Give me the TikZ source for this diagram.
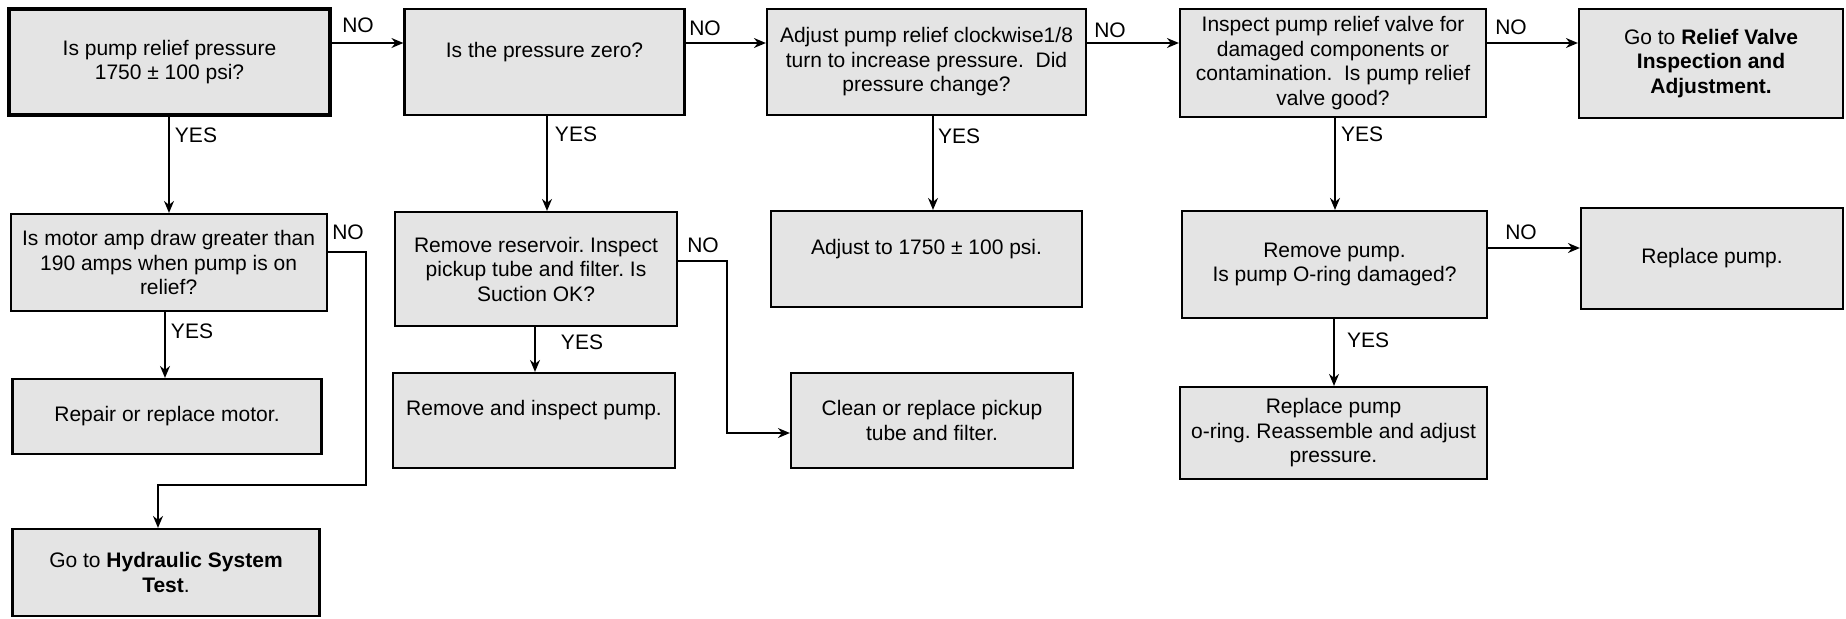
\documentclass[tikz,border=0pt]{standalone}
\usepackage{fontspec}
\setmainfont{Liberation Sans}
\usetikzlibrary{arrows.meta}
\definecolor{boxgray}{RGB}{228,228,228}
\frenchspacing
\begin{document}
\begin{tikzpicture}[x=0.5pt, y=-0.5pt,
  txt/.style={font=\fontsize{10.5pt}{12.25pt}\selectfont},
  box/.style={draw, line width=1.1pt, fill=boxgray, align=center, inner sep=0pt, txt},
  lbl/.style={inner sep=0pt, txt},
  ln/.style={line width=0.75pt},
  arr/.style={line width=0.75pt, -{Stealth[length=6pt, width=5pt, inset=2pt]}}]
\useasboundingbox (0,0) rectangle (1846,618);

% top row
\node[box, line width=1.8pt, minimum width=160.5pt, minimum height=53pt] (A) at (169.5,62)
  {Is pump relief pressure\\1750 ± 100 psi?};
\node[box, minimum width=140pt, minimum height=53pt] (B) at (544.5,62)
  {Is the pressure zero?\\~};
\node[box, minimum width=159.5pt, minimum height=53pt] (I) at (926.5,62)
  {Adjust pump relief clockwise1/8\\turn to increase pressure.~ Did\\pressure change?};
\node[box, minimum width=153pt, minimum height=54pt] (K) at (1333,63)
  {Inspect pump relief valve for\\damaged components or\\contamination.~ Is pump relief\\valve good?};
\node[box, minimum width=132pt, minimum height=54.5pt] (L) at (1711,63.5)
  {Go to \textbf{Relief Valve}\\\textbf{Inspection and}\\\textbf{Adjustment.}};

% second row
\node[box, minimum width=158pt, minimum height=48.5pt] (C) at (168.6,262.5)
  {Is motor amp draw greater than\\190 amps when pump is on\\relief?};
\node[box, minimum width=141pt, minimum height=57pt] (D) at (536,269)
  {Remove reservoir. Inspect\\pickup tube and filter. Is\\Suction OK?};
\node[box, minimum width=155.5pt, minimum height=48pt] (J) at (926.5,259)
  {Adjust to 1750 ± 100 psi.\\~};
\node[box, minimum width=152.5pt, minimum height=53.5pt] (M) at (1334.5,264.5)
  {Remove pump.\\Is pump O-ring damaged?};
\node[box, minimum width=131pt, minimum height=50.5pt] (N) at (1712,258.5)
  {Replace pump.};

% third row
\node[box, minimum width=154.5pt, minimum height=37.5pt] (E) at (167,416.5)
  {Repair or replace motor.};
\node[box, minimum width=141pt, minimum height=47.5pt] (H) at (534,420.5)
  {Remove and inspect pump.\\~};
\node[box, minimum width=141pt, minimum height=47.5pt] (F) at (932,420.5)
  {Clean or replace pickup\\tube and filter.};
\node[box, minimum width=153.5pt, minimum height=46pt] (O) at (1333.5,433)
  {Replace pump\\o-ring. Reassemble and adjust\\pressure.};

% fourth row
\node[box, minimum width=153.5pt, minimum height=43.5pt] (G) at (166,572.5)
  {Go to \textbf{Hydraulic System}\\\textbf{Test}.};

% connectors
\draw[arr] (A.east |- 0,43) -- (B.west |- 0,43);
\draw[arr] (B.east |- 0,43) -- (I.west |- 0,43);
\draw[arr] (I.east |- 0,43) -- (K.west |- 0,43);
\draw[arr] (K.east |- 0,43) -- (L.west |- 0,43);

\draw[arr] (A.south -| 169,0) -- (C.north -| 169,0);
\draw[arr] (B.south -| 547,0) -- (D.north -| 547,0);
\draw[arr] (I.south -| 933,0) -- (J.north -| 933,0);
\draw[arr] (K.south -| 1335,0) -- (M.north -| 1335,0);

\draw[arr] (C.south -| 165,0) -- (E.north -| 165,0);
\draw[arr] (C.east |- 0,252) -| (366,485) -| (G.north -| 158,0);
\draw[arr] (D.south -| 535,0) -- (H.north -| 535,0);
\draw[arr] (D.east |- 0,261) -| (727,433) -- (F.west |- 0,433);
\draw[arr] (M.east |- 0,248) -- (N.west |- 0,248);
\draw[arr] (M.south -| 1334,0) -- (O.north -| 1334,0);

% labels
\node[lbl] (n1) at (358,25) {NO};
\node[lbl] (n2) at (705,28) {NO};
\node[lbl] (n3) at (1110,30) {NO};
\node[lbl] (n4) at (1511,27) {NO};
\node[lbl] (n5) at (348,232) {NO};
\node[lbl] (n6) at (703,245) {NO};
\node[lbl] (n7) at (1521,232) {NO};
\node[lbl] (y1) at (196,135) {YES};
\node[lbl] (y2) at (576,134) {YES};
\node[lbl] (y3) at (959,136) {YES};
\node[lbl] (y4) at (1362,134) {YES};
\node[lbl] (y5) at (192,331) {YES};
\node[lbl] (y6) at (582,342) {YES};
\node[lbl] (y7) at (1368,340) {YES};
\end{tikzpicture}
\end{document}
